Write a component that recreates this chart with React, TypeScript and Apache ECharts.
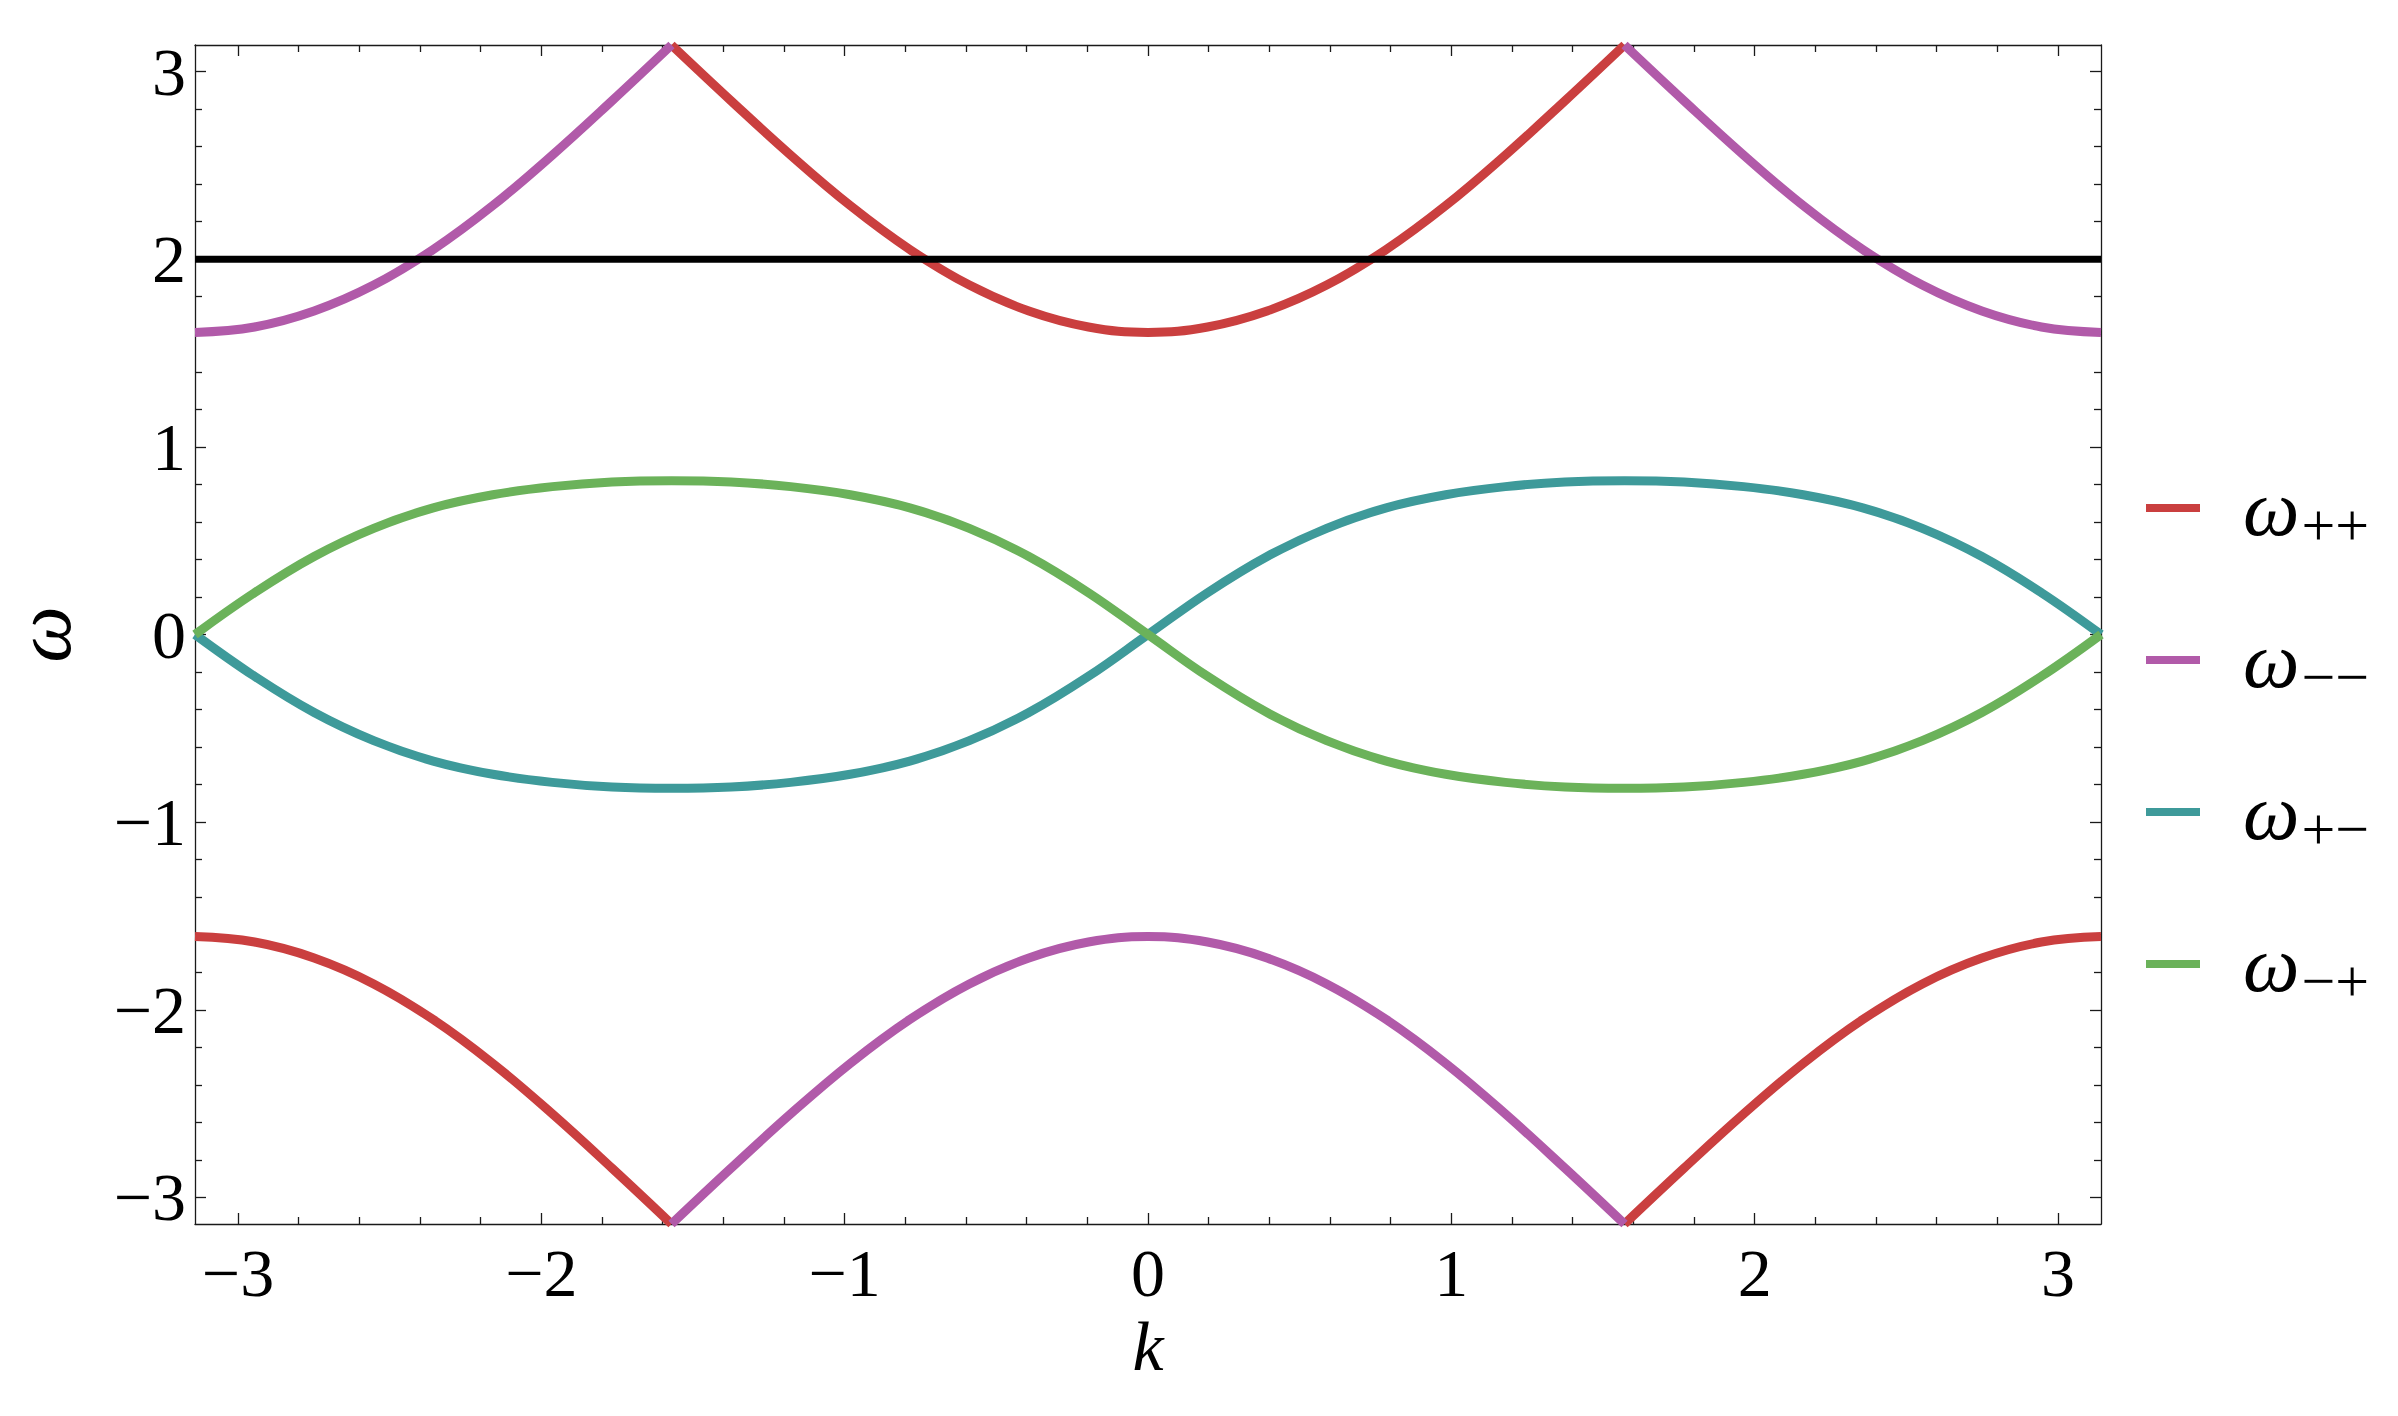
import React, { useEffect, useRef } from "react";
import * as echarts from "echarts";

const PI = 3.14159265;

// k sample points (on a pi/16 grid)
const kLeft = [-3.1416, -2.9452, -2.7489, -2.5525, -2.3562, -2.1598, -1.9635, -1.7671, -1.5708];
const kMid = [
  -1.5708, -1.3744, -1.1781, -0.9817, -0.7854, -0.589, -0.3927, -0.1963, 0,
  0.1963, 0.3927, 0.589, 0.7854, 0.9817, 1.1781, 1.3744, 1.5708,
];
const kRight = [1.5708, 1.7671, 1.9635, 2.1598, 2.3562, 2.5525, 2.7489, 2.9452, 3.1416];
const kAll = [
  -3.1416, -2.9452, -2.7489, -2.5525, -2.3562, -2.1598, -1.9635, -1.7671, -1.5708,
  -1.3744, -1.1781, -0.9817, -0.7854, -0.589, -0.3927, -0.1963, 0,
  0.1963, 0.3927, 0.589, 0.7854, 0.9817, 1.1781, 1.3744, 1.5708,
  1.7671, 1.9635, 2.1598, 2.3562, 2.5525, 2.7489, 2.9452, 3.1416,
];

// omega_{++}
const wPPLeft = [-1.61, -1.639, -1.724, -1.862, -2.052, -2.286, -2.555, -2.844, -3.1416];
const wPPMid = [
  3.1416, 2.844, 2.555, 2.286, 2.052, 1.862, 1.724, 1.639, 1.61,
  1.639, 1.724, 1.862, 2.052, 2.286, 2.555, 2.844, 3.1416,
];
const wPPRight = [-3.1416, -2.844, -2.555, -2.286, -2.052, -1.862, -1.724, -1.639, -1.61];

// omega_{--}
const wMMLeft = [1.61, 1.639, 1.724, 1.862, 2.052, 2.286, 2.555, 2.844, 3.1416];
const wMMMid = [
  -3.1416, -2.844, -2.555, -2.286, -2.052, -1.862, -1.724, -1.639, -1.61,
  -1.639, -1.724, -1.862, -2.052, -2.286, -2.555, -2.844, -3.1416,
];
const wMMRight = [3.1416, 2.844, 2.555, 2.286, 2.052, 1.862, 1.724, 1.639, 1.61];

// omega_{+-}
const wPM = [
  0, -0.223, -0.416, -0.566, -0.675, -0.745, -0.788, -0.813, -0.82,
  -0.813, -0.788, -0.745, -0.675, -0.566, -0.416, -0.223, 0,
  0.223, 0.416, 0.566, 0.675, 0.745, 0.788, 0.813, 0.82,
  0.813, 0.788, 0.745, 0.675, 0.566, 0.416, 0.223, 0,
];

// omega_{-+}
const wMP = [
  0, 0.223, 0.416, 0.566, 0.675, 0.745, 0.788, 0.813, 0.82,
  0.813, 0.788, 0.745, 0.675, 0.566, 0.416, 0.223, 0,
  -0.223, -0.416, -0.566, -0.675, -0.745, -0.788, -0.813, -0.82,
  -0.813, -0.788, -0.745, -0.675, -0.566, -0.416, -0.223, 0,
];

// horizontal reference line
const kLine = [-3.1416, 3.1416];
const wLine = [2, 2];

// ticks
const majorTicks = [-3, -2, -1, 0, 1, 2, 3];
const minorTicks = [
  -2.8, -2.6, -2.4, -2.2, -1.8, -1.6, -1.4, -1.2, -0.8, -0.6, -0.4, -0.2,
  0.2, 0.4, 0.6, 0.8, 1.2, 1.4, 1.6, 1.8, 2.2, 2.4, 2.6, 2.8,
];

const legendNames = ["pp", "mm", "pm", "mp"];
const legendSubs: Record<string, string> = {
  pp: "++",
  mm: "\u2212\u2212",
  pm: "+\u2212",
  mp: "\u2212+",
};

const COLORS: Record<string, string> = {
  pp: "#CA3F3F",
  mm: "#B15AA9",
  pm: "#3E9A9A",
  mp: "#6BB25A",
};

const FONT = "Liberation Serif";
const FRAME = "#1a1a1a";

const zip = (ks: number[], ws: number[]) => ks.map((k, i) => [k, ws[i]]);

const fmt = (v: number) => String(v).replace("-", "\u2212");

function makeAxis(kind: "x" | "y", position: string, major: boolean, labels: boolean) {
  return {
    type: "value",
    min: -PI,
    max: PI,
    position,
    gridIndex: 0,
    axisLine: { show: major, onZero: false, lineStyle: { color: FRAME, width: 1.3 } },
    axisTick: {
      show: true,
      inside: true,
      length: major ? 11 : 7,
      customValues: major ? majorTicks : minorTicks,
      lineStyle: { color: FRAME, width: 1.3 },
    },
    axisLabel: labels
      ? kind === "x"
        ? {
            show: true,
            customValues: majorTicks,
            formatter: fmt,
            fontSize: 68,
            lineHeight: 56,
            fontFamily: FONT,
            color: "#000",
            margin: 21,
          }
        : {
            show: true,
            customValues: majorTicks,
            formatter: fmt,
            fontSize: 68,
            fontFamily: FONT,
            color: "#000",
            margin: 9,
          }
      : { show: false },
    splitLine: { show: false },
    minorTick: { show: false },
  } as any;
}

function lineSeries(name: string, data: number[][], color: string, width = 9) {
  return {
    type: "line",
    name,
    data,
    showSymbol: false,
    symbol: "none",
    smooth: 0.4,
    color,
    lineStyle: { color, width, cap: "butt", join: "miter" },
    emphasis: { disabled: true },
    silent: true,
    clip: true,
  } as any;
}

export default function App() {
  const ref = useRef<HTMLDivElement>(null);

  useEffect(() => {
    if (!ref.current) return;
    const chart = echarts.init(ref.current, null, { renderer: "svg" });

    const option: any = {
      animation: false,
      backgroundColor: "#ffffff",
      grid: {
        left: 195,
        top: 45,
        right: 297,
        bottom: 192,
        containLabel: false,
        outerBoundsMode: "none",
      },
      xAxis: [
        {
          ...makeAxis("x", "bottom", true, true),
          name: "k",
          nameLocation: "middle",
          nameGap: 31,
          nameTextStyle: { fontSize: 70, fontFamily: FONT, fontStyle: "italic", color: "#000" },
        },
        makeAxis("x", "bottom", false, false),
        makeAxis("x", "top", true, false),
        makeAxis("x", "top", false, false),
      ],
      yAxis: [
        {
          ...makeAxis("y", "left", true, true),
          name: "\u03c9",
          nameLocation: "middle",
          nameRotate: 90,
          nameGap: 112,
          nameMoveOverlap: false,
          nameTextStyle: {
            fontSize: 80,
            lineHeight: 80,
            fontFamily: FONT,
            fontStyle: "italic",
            color: "#000",
          },
        },
        makeAxis("y", "left", false, false),
        makeAxis("y", "right", true, false),
        makeAxis("y", "right", false, false),
      ],
      legend: {
        show: true,
        orient: "vertical",
        left: 2141,
        top: 456,
        itemWidth: 54,
        itemHeight: 8,
        itemGap: 58,
        icon: "rect",
        selectedMode: false,
        data: legendNames.map((n) => ({ name: n, itemStyle: { color: COLORS[n] } })),
        formatter: (n: string) => `{w|\u03c9}{s|${legendSubs[n]}}`,
        textStyle: {
          rich: {
            w: {
              fontSize: 80,
              lineHeight: 94,
              fontFamily: FONT,
              fontStyle: "italic",
              color: "#000",
              padding: [0, 0, 0, 38],
            },
            s: {
              fontSize: 60,
              lineHeight: 60,
              fontFamily: FONT,
              color: "#000",
              padding: [34, 0, 0, 2],
            },
          },
        },
      },
      series: [
        lineSeries("pp", zip(kLeft, wPPLeft), COLORS.pp),
        lineSeries("pp", zip(kMid, wPPMid), COLORS.pp),
        lineSeries("pp", zip(kRight, wPPRight), COLORS.pp),
        lineSeries("mm", zip(kLeft, wMMLeft), COLORS.mm),
        lineSeries("mm", zip(kMid, wMMMid), COLORS.mm),
        lineSeries("mm", zip(kRight, wMMRight), COLORS.mm),
        lineSeries("pm", zip(kAll, wPM), COLORS.pm),
        lineSeries("mp", zip(kAll, wMP), COLORS.mp),
        { ...lineSeries("threshold", zip(kLine, wLine), "#000000", 7), smooth: false },
      ],
    };

    chart.setOption(option);
    return () => chart.dispose();
  }, []);

  return (
    <div
      ref={ref}
      style={{ position: "absolute", left: 0, top: 0, width: 2398, height: 1416, background: "#fff" }}
    />
  );
}
